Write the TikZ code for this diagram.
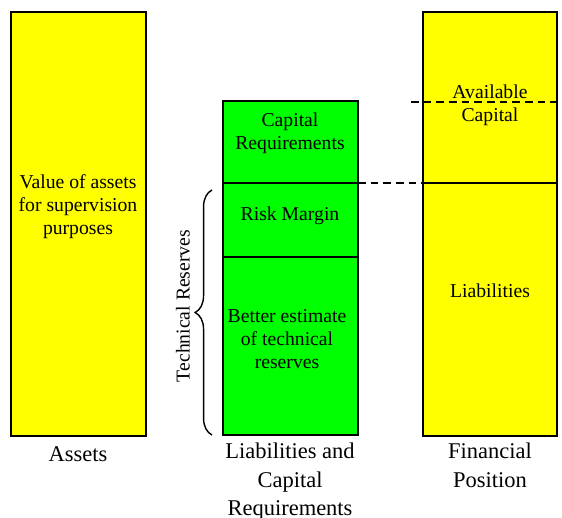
\documentclass[tikz,border=0pt]{standalone}
\usepackage{fontspec}
\setmainfont{Liberation Serif}
\usetikzlibrary{decorations.pathreplacing}
\definecolor{ylw}{RGB}{255,255,0}
\definecolor{grn}{RGB}{0,255,0}
\tikzset{
  boxtext/.style={align=center,inner sep=0pt,font=\fontsize{14}{16.3}\selectfont},
  captext/.style={align=center,inner sep=0pt,font=\fontsize{16}{20}\selectfont},
  col/.style={line width=1.5pt},
  split/.style={line width=1pt},
  gap/.style={line width=1.3pt,dash pattern=on 5.5pt off 3.5pt}
}
\begin{document}
\begin{tikzpicture}[x=0.025cm,y=-0.025cm]
\useasboundingbox (0,0) rectangle (562,518);
% columns
\draw[col,fill=ylw](11,12)rectangle(146,436);
\draw[col,fill=grn](223,101)rectangle(358,435);
\draw[split](223,183)--(358,183);
\draw[split](223,257)--(358,257);
\draw[col,fill=ylw](423,12)rectangle(557,436);
\draw[split](423,183)--(557,183);
%labels
\node[boxtext](assets)at(78,207){Value of assets\\for supervision\\purposes};
\node[boxtext](capreq)at(290,133){Capital\\Requirements};
\node[boxtext](risk)at(290,216){Risk Margin};
\node[boxtext](best)at(287,339){Better estimate\\of technical\\reserves};
\node[boxtext](liab)at(490,291){Liabilities};
\node[boxtext](avail)at(490,105){Available\\Capital};
\node[captext](assetscap)at(78,454){Assets};
\node[captext,anchor=north](lcrcap)at(290,443){Liabilities and\\Capital\\Requirements};
\node[captext,anchor=north](fincap)at(490,443){Financial\\Position};
% brace
\draw[line width=1pt,decorate,decoration={brace,amplitude=12}](212,435)--(212,190);
\node[boxtext,rotate=90](techres)at(183,306){Technical Reserves};
% dashed levels
\draw[gap](358,183)--(423,183);
\draw[gap](411,102)--(562,102);
\end{tikzpicture}
\end{document}
